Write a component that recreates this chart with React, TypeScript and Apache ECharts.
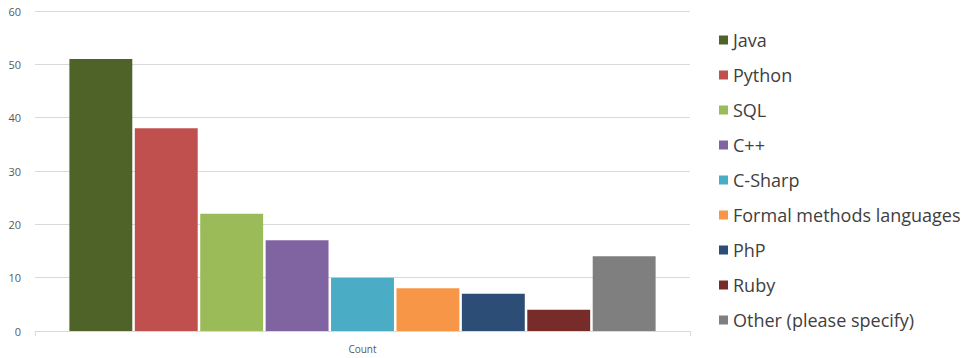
import React, { useEffect, useRef } from "react";
import * as echarts from "echarts";

const categories = ["Count"];
const seriesNames = [
  "Java",
  "Python",
  "SQL",
  "C++",
  "C-Sharp",
  "Formal methods languages",
  "PhP",
  "Ruby",
  "Other (please specify)",
];
const seriesValues = [51, 38, 22, 17, 10, 8, 7, 4, 14];
const seriesColors = [
  "#4f6228",
  "#c0504d",
  "#9bbb59",
  "#8064a2",
  "#4bacc6",
  "#f79646",
  "#2c4d75",
  "#772c2a",
  "#7f7f7f",
];
const yMin = 0;
const yMax = 60;
const yInterval = 10;

export default function App() {
  const ref = useRef<HTMLDivElement>(null);
  useEffect(() => {
    if (!ref.current) return;
    const chart = echarts.init(ref.current, undefined, { renderer: "svg" });
    const font = "Open Sans";
    chart.setOption({
      animation: false,
      backgroundColor: "#ffffff",
      grid: { left: 35, right: 278, top: 11, bottom: 27, containLabel: false },
      legend: {
        orient: "vertical",
        left: 714,
        top: 25,
        icon: "rect",
        itemWidth: 9,
        itemHeight: 9,
        itemGap: 15,
        textStyle: {
          fontFamily: font,
          fontSize: 18,
          color: "#404040",
          lineHeight: 20,
          padding: [0, 0, 0, 0],
        },
        data: seriesNames,
      },
      xAxis: {
        type: "category",
        data: categories,
        axisLine: { show: true, lineStyle: { color: "#d9d9d9", width: 1 } },
        axisTick: { show: true, length: 5, lineStyle: { color: "#d9d9d9" } },
        axisLabel: { fontFamily: font, fontSize: 10, color: "#595959", margin: 13 },
      },
      yAxis: {
        type: "value",
        min: yMin,
        max: yMax,
        interval: yInterval,
        axisLine: { show: false },
        axisTick: { show: false },
        splitLine: { lineStyle: { color: "#d9d9d9", width: 1 } },
        axisLabel: { fontFamily: font, fontSize: 11, color: "#595959", margin: 14 },
      },
      series: seriesNames.map((name, i) => ({
        name,
        type: "bar",
        data: [seriesValues[i]],
        barGap: "4%",
        barCategoryGap: "10.5%",
        itemStyle: { color: seriesColors[i] },
      })),
    });
    return () => chart.dispose();
  }, []);
  return <div ref={ref} style={{ width: 968, height: 358, marginLeft: -8, marginTop: -8 }} />;
}
